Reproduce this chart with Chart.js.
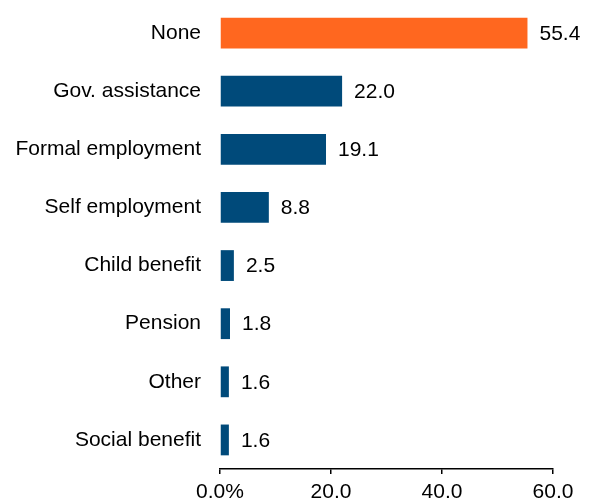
<!DOCTYPE html>
<html>
<head>
<meta charset="utf-8">
<script src="https://cdn.jsdelivr.net/npm/chart.js@4.4.0/dist/chart.umd.min.js"></script>
<style>
  html, body { margin: 0; padding: 0; background: #fff; }
  #wrap { width: 590px; height: 502px; position: relative; }
</style>
</head>
<body>
<div id="wrap"><canvas id="myChart"></canvas></div>
<script>
// categories and values
const categories = ['None', 'Gov. assistance', 'Formal employment', 'Self employment', 'Child benefit', 'Pension', 'Other', 'Social benefit'];
const shares = [55.4, 22.0, 19.1, 8.8, 2.5, 1.8, 1.6, 1.6];
const xTicks = [0, 20, 40, 60];
const xTickLabels = ['0.0%', '20.0', '40.0', '60.0'];

const orange = '#FF671F';
const blue = '#004A7A';
const fontFamily = '"Liberation Sans", Arial, sans-serif';
const fontSize = 21;

// value labels to the right of each bar
const valueLabels = {
    id: 'valueLabels',
    afterDatasetsDraw(chart) {
        const ctx = chart.ctx;
        const meta = chart.getDatasetMeta(0);
        ctx.save();
        ctx.font = fontSize + 'px ' + fontFamily;
        ctx.fillStyle = '#000';
        ctx.textBaseline = 'middle';
        ctx.textAlign = 'left';
        meta.data.forEach((bar, i) => {
            ctx.fillText(shares[i].toFixed(1), bar.x + 12, bar.y + 1);
        });
        ctx.restore();
    }
};

let ctx = document.getElementById('myChart');
let myChart = new Chart(ctx, {
    type: 'bar',
    data: {
        labels: categories,
        datasets: [{
            data: shares,
            backgroundColor: shares.map((v, i) => i === 0 ? orange : blue),
            categoryPercentage: 1,
            barPercentage: 0.53,
        }]
    },
    options: {
        indexAxis: 'y',
        responsive: true,
        maintainAspectRatio: false,
        animation: false,
        layout: {
            padding: { top: 4, right: 37, bottom: 0, left: 16 }
        },
        plugins: {
            legend: { display: false },
            tooltip: { enabled: false },
        },
        scales: {
            x: {
                min: 0,
                max: 60,
                afterBuildTicks: (axis) => {
                    axis.ticks = xTicks.map(v => ({ value: v }));
                },
                afterFit: (axis) => {
                    axis.height = 33;
                },
                grid: {
                    drawOnChartArea: false,
                    drawTicks: true,
                    tickLength: 5,
                    color: '#000',
                    lineWidth: 1.5,
                },
                border: { display: true, color: '#000', width: 1.5 },
                ticks: {
                    color: '#000',
                    padding: 6,
                    maxRotation: 0,
                    font: { size: fontSize, family: fontFamily },
                    callback: (value) => xTickLabels[xTicks.indexOf(value)],
                },
            },
            y: {
                afterFit: (axis) => {
                    // no extra room above/below the category band
                    axis.paddingTop = 0;
                    axis.paddingBottom = 0;
                    axis.width = 204;
                },
                grid: { display: false, drawTicks: false, tickLength: 0 },
                border: { display: false },
                ticks: {
                    color: '#000',
                    padding: 19,
                    font: { size: fontSize, family: fontFamily },
                },
            },
        },
    },
    plugins: [valueLabels],
});
</script>
</body>
</html>
